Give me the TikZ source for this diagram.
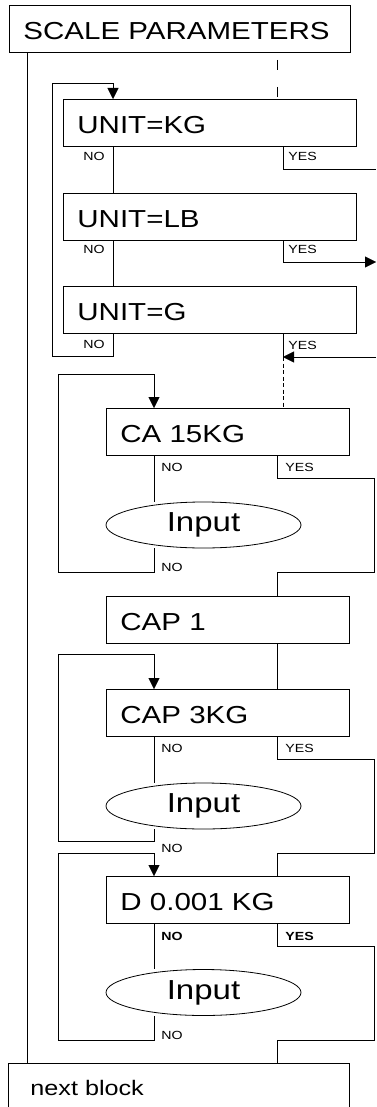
\documentclass[tikz,border=0pt]{standalone}
\usepackage{fontspec}
\setmainfont{Liberation Sans}[FakeStretch=1.2]
\usetikzlibrary{arrows.meta,shapes.geometric,backgrounds}
\begin{document}
\begin{tikzpicture}[x=1pt,y=-1pt,line width=0.8pt,
  box/.style={draw, rectangle, anchor=north west, inner xsep=14pt, inner ysep=0pt,
    minimum height=47pt, align=left, text height=21pt, text depth=0pt,
    font=\fontsize{24.6}{28}\selectfont},
  nextbox/.style={draw, rectangle, anchor=north west, inner xsep=22pt, inner ysep=16pt,
    align=left, text height=16pt, text depth=0pt, text width=297pt,
    font=\fontsize{21}{25}\selectfont},
  inp/.style={draw, ellipse, fill=white, minimum width=195pt, minimum height=46pt,
    inner sep=0pt, font=\fontsize{27.5}{32}\selectfont},
  lbl/.style={anchor=base west, inner sep=0pt, font=\fontsize{11.8}{13}\selectfont},
  blbl/.style={lbl, font=\fontsize{11.8}{13}\selectfont\bfseries},
  arr/.style={-{Triangle[length=11pt,width=11pt]}},
  finedash/.style={dash pattern=on 4pt off 2.5pt},
]
\useasboundingbox (0,0) rectangle (376,1107);
\clip (0,0) rectangle (376,1107);

% nodes
\node[box, text width=313pt] (sp) at (9,5) {SCALE PARAMETERS};
\node[box, text width=265pt] (kg) at (63,99) {UNIT=KG};
\node[box, text width=265pt] (lb) at (63,193) {UNIT=LB};
\node[box, text width=265pt] (g) at (63,286) {UNIT=G};
\node[box, text width=215pt] (ca) at (106,408) {CA 15KG};
\node[inp] (in1) at (203.5,525) {Input};
\node[box, text width=215pt] (cap1) at (106,596) {CAP 1};
\node[box, text width=215pt] (cap3) at (106,689) {CAP 3KG};
\node[inp] (in2) at (203.5,806) {Input};
\node[box, text width=215pt] (d) at (106,876) {D 0.001 KG};
\node[inp] (in3) at (203.5,992.5) {Input};
\node[nextbox] (nb) at (8,1063) {next block};

% labels
\node[lbl] (l1) at (83,161) {NO};
\node[lbl] (l2) at (288,161) {YES};
\node[lbl] (l3) at (83,254) {NO};
\node[lbl] (l4) at (288,254) {YES};
\node[lbl] (l5) at (83,348) {NO};
\node[lbl] (l6) at (288,349) {YES};
\node[lbl] (l7) at (161,471) {NO};
\node[lbl] (l8) at (285,471) {YES};
\node[lbl] (l9) at (161,571) {NO};
\node[lbl] (l10) at (161,752) {NO};
\node[lbl] (l11) at (285,752) {YES};
\node[lbl] (l12) at (161,852) {NO};
\node[blbl] (l13) at (161,940) {NO};
\node[blbl] (l14) at (285,940) {YES};
\node[lbl] (l15) at (161,1039) {NO};

% coordinates
\coordinate (xl) at (27,0);
\coordinate (xa) at (52,0);
\coordinate (xn) at (113,0);
\coordinate (xd) at (277,0);
\coordinate (xy) at (283,0);
\coordinate (xb) at (58,0);
\coordinate (xm) at (154,0);
\coordinate (xr) at (277,0);
\coordinate (xe) at (374,0);
\coordinate (uT) at (0,83);
\coordinate (uB) at (0,356);
\coordinate (e1) at (376,169);
\coordinate (e2) at (376,262);
\coordinate (e3) at (376,357);
\coordinate (t1) at (0,374);
\coordinate (b1) at (0,572);
\coordinate (y1) at (0,478);
\coordinate (t2) at (0,654);
\coordinate (b2) at (0,841);
\coordinate (y2) at (0,759);
\coordinate (r2) at (0,853);
\coordinate (t3) at (0,853);
\coordinate (b3) at (0,1040);
\coordinate (y3) at (0,946);

\begin{scope}[on background layer]
% main left line
\draw (sp.south -| xl) -- (nb.north -| xl);
% dashed from SP
\draw[dash pattern=on 10pt off 17pt, dash phase=20pt] (sp.south -| xd) -- (kg.north -| xd);
% unit chain
\draw (kg.south -| xn) -- (lb.north -| xn);
\draw (lb.south -| xn) -- (g.north -| xn);
\draw[arr] (g.south -| xn) -- (uB -| xn) -- (uB -| xa) -- (uT -| xa) -- (uT -| xn) -- (kg.north -| xn);
\draw (kg.south -| xy) |- (e1);
\draw[arr] (lb.south -| xy) |- (e2);
\draw[arr] (e3) -- (e3 -| xy);
\draw (g.south -| xy) -- (e3 -| xy);
\draw[finedash] (e3 -| xy) -- (ca.north -| xy);
% CA
\draw (ca.south -| xm) -- (in1.north -| xm);
\draw[arr] (in1.south -| xm) -- (b1 -| xm) -- (b1 -| xb) -- (t1 -| xb) -- (t1 -| xm) -- (ca.north -| xm);
\draw (ca.south -| xr) -- (y1 -| xr) -- (y1 -| xe) -- (b1 -| xe) -- (b1 -| xr) -- (cap1.north -| xr);
% CAP 1
\draw (cap1.south -| xr) -- (cap3.north -| xr);
% CAP 3KG
\draw (cap3.south -| xm) -- (in2.north -| xm);
\draw[arr] (in2.south -| xm) -- (b2 -| xm) -- (b2 -| xb) -- (t2 -| xb) -- (t2 -| xm) -- (cap3.north -| xm);
\draw (cap3.south -| xr) -- (y2 -| xr) -- (y2 -| xe) -- (r2 -| xe) -- (r2 -| xr) -- (d.north -| xr);
% D
\draw (d.south -| xm) -- (in3.north -| xm);
\draw[arr] (in3.south -| xm) -- (b3 -| xm) -- (b3 -| xb) -- (t3 -| xb) -- (t3 -| xm) -- (d.north -| xm);
\draw (d.south -| xr) -- (y3 -| xr) -- (y3 -| xe) -- (b3 -| xe) -- (b3 -| xr) -- (nb.north -| xr);
\end{scope}
\end{tikzpicture}
\end{document}
